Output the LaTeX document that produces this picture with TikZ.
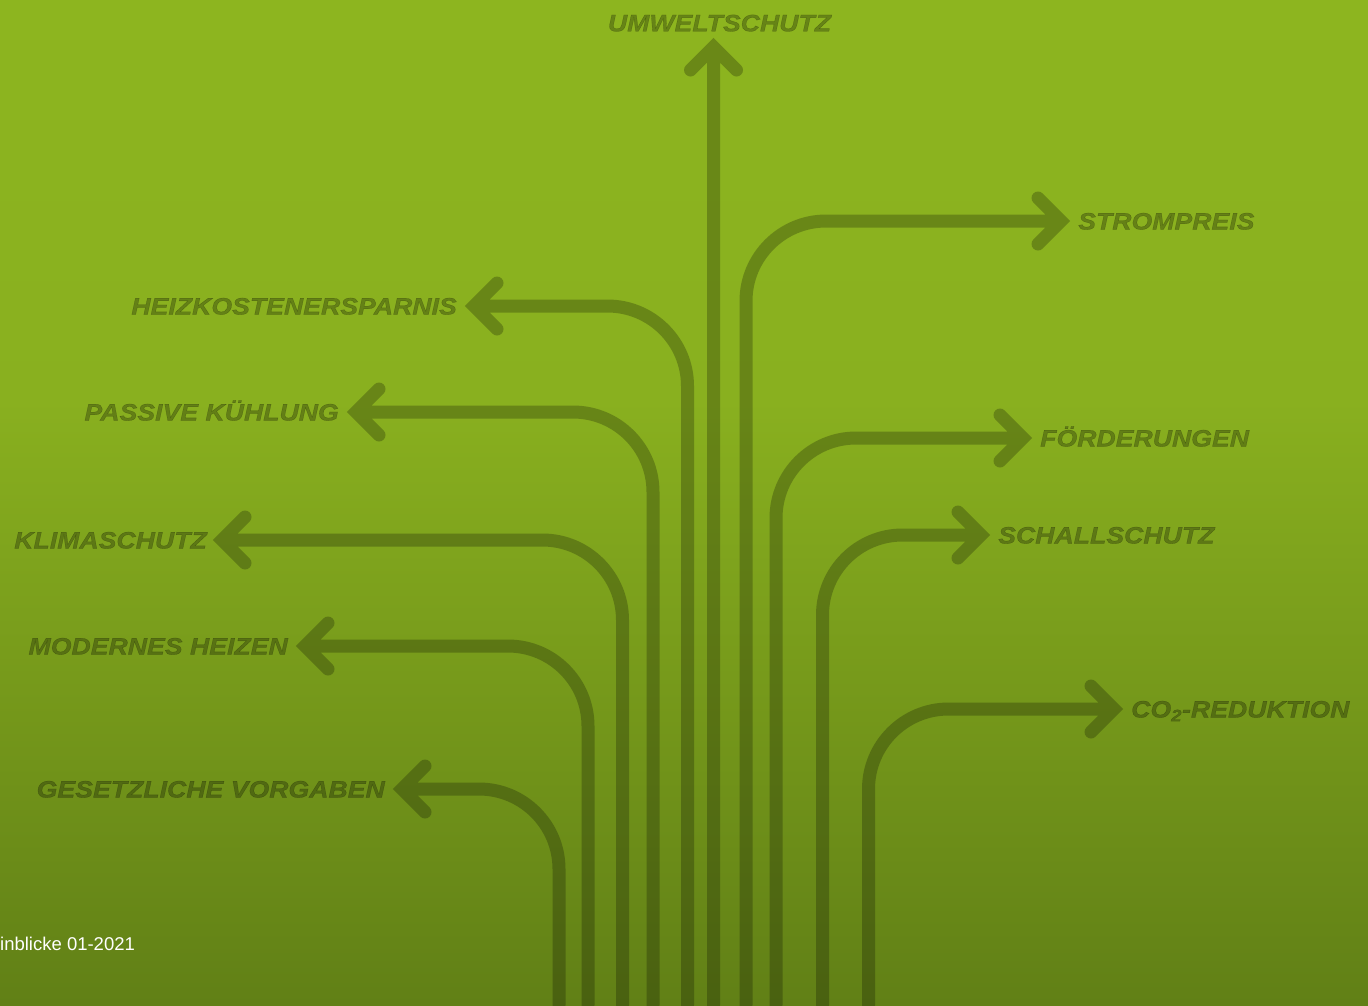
\documentclass[tikz,border=0pt]{standalone}
\usepackage{fontspec}
\usepackage{xcolor}
\usepackage{tikz}
\usetikzlibrary{positioning}
\newfontfamily\topicfont{Liberation Sans}[FakeStretch=1.125,
  BoldItalicFeatures={FakeBold=1.2}]
\setmainfont{Liberation Sans}
\definecolor{bgtop}{HTML}{8DB51F}
\definecolor{bgupp}{HTML}{89B01F}
\definecolor{bgmid}{HTML}{7BA11C}
\definecolor{bgbot}{HTML}{618016}
\tikzset{
    topic/.style={
           font=\topicfont\bfseries\itshape\fontsize{23.7}{28}\selectfont,
           text=black, text opacity=0.27,
           inner sep=0pt,
           text height=17pt, text depth=0pt,
           },
    flow/.style={
           draw=black, draw opacity=0.24,
           line width=13pt,
           line cap=round, line join=miter,
           },
}

\begin{document}
\begin{tikzpicture}[x=1pt, y=-1pt]

 % page size and green background (darkens towards the bottom)
 \useasboundingbox (0,0) rectangle (1368,1005);
 \shade[top color=bgtop, bottom color=bgupp] (0,0) rectangle (1368,400.5);
 \shade[top color=bgupp, middle color=bgmid, bottom color=bgbot]
   (0,400) rectangle (1368,1005);

 % free ends at the bottom edge
 \coordinate (bGes) at (559,1005);
 \coordinate (bMod) at (588,1005);
 \coordinate (bKli) at (622.5,1005);
 \coordinate (bPas) at (653,1005);
 \coordinate (bHei) at (687.5,1005);
 \coordinate (bUmw) at (713.5,1005);
 \coordinate (bStr) at (746,1005);
 \coordinate (bFoe) at (776,1005);
 \coordinate (bSch) at (822.5,1005);
 \coordinate (bCO)  at (868.5,1005);

 % arrow tips
 \coordinate (tUmw) at (713.5,47);
 \coordinate (tStr) at (1061,221);
 \coordinate (tHei) at (474,306);
 \coordinate (tPas) at (356,412);
 \coordinate (tFoe) at (1023,438);
 \coordinate (tKli) at (222,540);
 \coordinate (tSch) at (981,535);
 \coordinate (tMod) at (305,646);
 \coordinate (tCO)  at (1114,709);
 \coordinate (tGes) at (402,789);

 % topics, placed next to their tips
 \node[topic, above=15.5pt of tUmw, xshift=6pt] (UMW) {UMWELTSCHUTZ};
 \node[topic, right=17pt of tStr] (STR) {STROMPREIS};
 \node[topic, left=17pt of tHei] (HEI) {HEIZKOSTENERSPARNIS};
 \node[topic, left=17pt of tPas] (PAS) {PASSIVE KÜHLUNG};
 \node[topic, right=17pt of tFoe] (FOE) {FÖRDERUNGEN};
 \node[topic, left=15pt of tKli] (KLI) {KLIMASCHUTZ};
 \node[topic, right=17pt of tSch] (SCH) {SCHALLSCHUTZ};
 \node[topic, left=17pt of tMod] (MOD) {MODERNES HEIZEN};
 \node[topic, right=17pt of tCO] (CO) {CO\textsubscript{2}-REDUKTION};
 \node[topic, left=17pt of tGes] (GES) {GESETZLICHE VORGABEN};

 % arrows: shaft with one rounded bend, then the two barbs
 \draw[flow] (bUmw) -- (tUmw) ++(-23,23) -- (tUmw) -- ++(23,23);
 \draw[flow] (bStr) [rounded corners=80pt] |- (tStr)
   [sharp corners] ++(-23,-23) -- (tStr) -- ++(-23,23);
 \draw[flow] (bHei) [rounded corners=80pt] |- (tHei)
   [sharp corners] ++(23,-23) -- (tHei) -- ++(23,23);
 \draw[flow] (bPas) [rounded corners=80pt] |- (tPas)
   [sharp corners] ++(23,-23) -- (tPas) -- ++(23,23);
 \draw[flow] (bFoe) [rounded corners=80pt] |- (tFoe)
   [sharp corners] ++(-23,-23) -- (tFoe) -- ++(-23,23);
 \draw[flow] (bKli) [rounded corners=80pt] |- (tKli)
   [sharp corners] ++(23,-23) -- (tKli) -- ++(23,23);
 \draw[flow] (bSch) [rounded corners=80pt] |- (tSch)
   [sharp corners] ++(-23,-23) -- (tSch) -- ++(-23,23);
 \draw[flow] (bMod) [rounded corners=80pt] |- (tMod)
   [sharp corners] ++(23,-23) -- (tMod) -- ++(23,23);
 \draw[flow] (bCO) [rounded corners=80pt] |- (tCO)
   [sharp corners] ++(-23,-23) -- (tCO) -- ++(-23,23);
 \draw[flow] (bGes) [rounded corners=80pt] |- (tGes)
   [sharp corners] ++(23,-23) -- (tGes) -- ++(23,23);

 % source line, cut at the left edge
 \node[anchor=base west, inner sep=0pt, text=white,
   font=\fontsize{18.5}{22}\selectfont] (SRC) at (0,950) {inblicke 01-2021};
\end{tikzpicture}
\end{document}
